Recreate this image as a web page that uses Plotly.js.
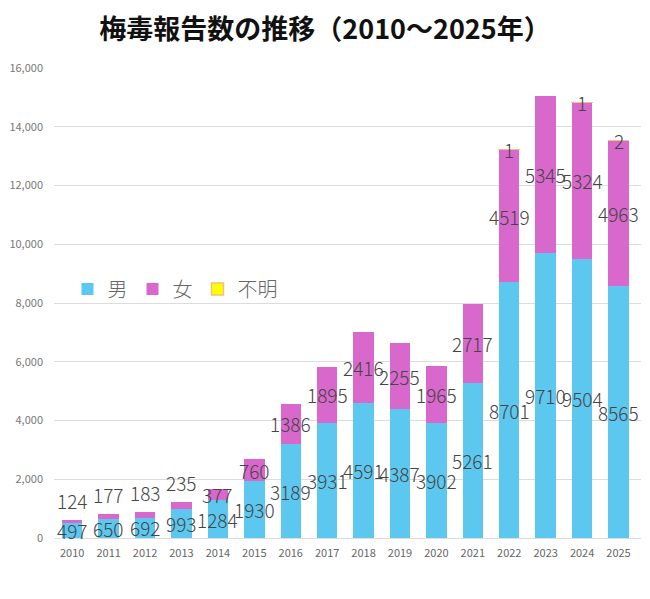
<!DOCTYPE html>
<html>
<head>
<meta charset="utf-8">
<script src="https://cdn.plot.ly/plotly-3.0.1.min.js"></script>
<style>
  html, body { margin: 0; padding: 0; background: #fff; }
  #chart { width: 650px; height: 599px; }
</style>
</head>
<body>
<div id="chart"></div>
<script>
// 年ごとの梅毒報告数
const years = ['2010', '2011', '2012', '2013', '2014', '2015', '2016', '2017',
  '2018', '2019', '2020', '2021', '2022', '2023', '2024', '2025']
const male = [497, 650, 692, 993, 1284, 1930, 3189, 3931,
  4591, 4387, 3902, 5261, 8701, 9710, 9504, 8565]
const female = [124, 177, 183, 235, 377, 760, 1386, 1895,
  2416, 2255, 1965, 2717, 4519, 5345, 5324, 4963]
const unknown = [null, null, null, null, null, null, null, null,
  null, null, null, null, 1, null, 1, 2]

const labelFont = { family: 'Noto Sans CJK JP, Noto Sans, sans-serif', size: 19, color: '#454545', weight: 300 }

window.addEventListener('load', () => {
  drawChart()
})

/**
 * Builds the value labels: centred in each segment, small female values go above the bar.
 * On a category axis the annotation x is the category index.
 */
function buildLabels () {
  const notes = []
  years.forEach(function (yr, i) {
    notes.push({
      x: i, y: male[i] / 2, text: String(male[i]),
      showarrow: false, font: labelFont
    })
    if (female[i] < 300) {
      notes.push({
        x: i, y: male[i] + female[i], text: String(female[i]),
        showarrow: false, font: labelFont, yanchor: 'bottom', yshift: 4
      })
    } else {
      notes.push({
        x: i, y: male[i] + female[i] / 2, text: String(female[i]),
        showarrow: false, font: labelFont
      })
    }
    if (unknown[i] !== null) {
      notes.push({
        x: i, y: male[i] + female[i] + unknown[i], text: String(unknown[i]),
        showarrow: false, font: labelFont
      })
    }
  })
  return notes
}

function drawChart () {
  const data = [{
    type: 'bar', name: '男', x: years, y: male,
    marker: { color: '#5cc8f0' }, hoverinfo: 'x+y+name'
  }, {
    type: 'bar', name: '女', x: years, y: female,
    marker: { color: '#d968cc' }, hoverinfo: 'x+y+name'
  }, {
    type: 'bar', name: '不明', x: years, y: unknown,
    marker: { color: '#ffff00', line: { color: '#f2c27a', width: 1.5 } },
    hoverinfo: 'x+y+name'
  }]

  const layout = {
    width: 650,
    height: 599,
    paper_bgcolor: '#fff',
    plot_bgcolor: '#fff',
    barmode: 'stack',
    bargap: 0.44,
    margin: { l: 54, r: 9, t: 68, b: 61 },
    font: { family: 'Noto Sans CJK JP, Noto Sans, sans-serif', color: '#666' },
    title: {
      text: '<b>梅毒報告数の推移（2010～2025年）</b>',
      font: { family: 'Noto Sans CJK JP, sans-serif', size: 27, color: '#111' },
      x: 0.5, xanchor: 'center', y: 0.95, yanchor: 'middle'
    },
    xaxis: {
      type: 'category',
      tickfont: { size: 11, color: '#666' },
      showgrid: false,
      showline: false,
      ticks: '',
      ticklabelstandoff: 7
    },
    yaxis: {
      range: [0, 16000],
      dtick: 2000,
      tickformat: ',d',
      tickfont: { size: 11, color: '#777' },
      gridcolor: '#dcdcdc',
      gridwidth: 1,
      zeroline: true,
      zerolinecolor: '#dcdcdc',
      ticks: '',
      ticklabelstandoff: 10
    },
    legend: {
      orientation: 'h',
      traceorder: 'normal',
      x: 0.023, xanchor: 'left',
      y: 0.53, yanchor: 'middle',
      font: { size: 20, color: '#666', weight: 300 },
      itemwidth: 30,
      bgcolor: 'rgba(0,0,0,0)'
    },
    annotations: buildLabels()
  }

  Plotly.newPlot('chart', data, layout, { displayModeBar: false, staticPlot: true })
}
</script>
</body>
</html>
